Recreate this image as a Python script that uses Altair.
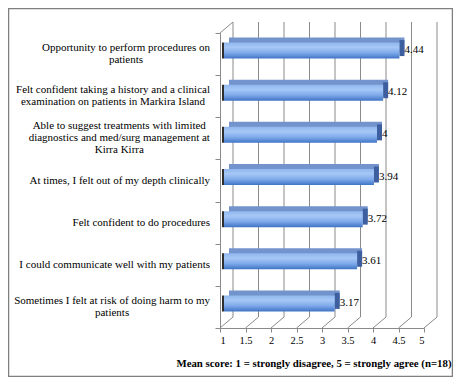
import altair as alt
import pandas as pd

# ---- data -------------------------------------------------------------
label_lines = [
    ["Opportunity to perform procedures on", "patients"],
    ["Felt confident taking a history and a clinical", "examination on patients in Markira Island"],
    ["Able to suggest  treatments with limited", "diagnostics and med/surg management at", "Kirra Kirra"],
    ["At times, I felt out of my depth clinically"],
    ["Felt confident to do procedures"],
    ["I could communicate well with my patients"],
    ["Sometimes I felt at risk of doing harm to my", "patients"],
]
values = [4.44, 4.12, 4, 3.94, 3.72, 3.61, 3.17]
value_labels = ["4.44", "4.12", "4", "3.94", "3.72", "3.61", "3.17"]
tick_values = [1, 1.5, 2, 2.5, 3, 3.5, 4, 4.5, 5]
axis_title = "Mean score: 1 = strongly disagree, 5 = strongly agree (n=18)"

# ---- approximate serif text widths (em units) for centring wrapped labels
_w = {c: 0.5 for c in "abdghknopquvxy"}
_w.update({c: 0.444 for c in "ace z"})
_w.update({"f": 0.333, "i": 0.278, "j": 0.278, "l": 0.278, "m": 0.778,
           "r": 0.333, "s": 0.389, "t": 0.278, "w": 0.722, " ": 0.25,
           ",": 0.25, ".": 0.25, "/": 0.278, "I": 0.333, "M": 0.889,
           "S": 0.556, "F": 0.556, "O": 0.722, "A": 0.722, "K": 0.722})
FONT_SIZE = 11
LINE_H = 12


def text_w(s):
    return sum(_w.get(c, 0.6) for c in s) * FONT_SIZE


cats = ["\n".join(l) for l in label_lines]
df = pd.DataFrame({
    "cat": cats,
    "value": values,
    "vlabel": value_labels,
    "tw": [max(text_w(s) for s in l) for l in label_lines],
    "nl": [len(l) for l in label_lines],
})
grid_df = pd.DataFrame({"t": tick_values})
one_df = pd.DataFrame({"a": [0]})

# ---- layout -----------------------------------------------------------
W, H = 204, 295
FONT = "Liberation Serif"
GRID = "#8a8a8a"

xscale = alt.Scale(domain=[1, 5], zero=False, nice=False)
xaxis = alt.Axis(values=tick_values, format="~g", grid=False, tickSize=4,
                 domainColor=GRID, tickColor=GRID, labelFont=FONT,
                 labelFontSize=10.5, labelColor="black", labelPadding=3,
                 title=axis_title, titleFont=FONT, titleFontSize=10.8,
                 titleFontWeight="bold", titleColor="black", titleX=231,
                 titleY=35, titleAlign="right", titleBaseline="middle")
yscale = alt.Scale(domain=cats, paddingInner=0, paddingOuter=0)
yaxis = alt.Axis(labels=False, ticks=True, tickBand="extent", tickSize=5,
                 domainColor=GRID, tickColor=GRID, title=None, grid=False)


def X(f):
    return alt.X(f, type="quantitative", scale=xscale, axis=xaxis)


def Y():
    return alt.Y("cat:N", scale=yscale, axis=yaxis, sort=cats)


border = alt.Chart(one_df).mark_rect(fill="transparent", stroke="#7f7f7f", strokeWidth=1.5).encode(
    x=alt.value(-211.5), x2=alt.value(232.5), y=alt.value(-24.5), y2=alt.value(343.5))

back_grid = alt.Chart(grid_df).mark_rule(color=GRID, strokeWidth=1, xOffset=13).encode(
    x=X("t"), y=alt.value(-11), y2=alt.value(H - 11))

floor = alt.Chart(grid_df).mark_rule(color=GRID, strokeWidth=1, x2Offset=13).encode(
    x=X("t"), x2=alt.X2("t"), y=alt.value(H), y2=alt.value(H - 11))

left_top = alt.Chart(grid_df).transform_filter("datum.t == 1").mark_rule(
    color=GRID, strokeWidth=1, x2Offset=13).encode(
    x=X("t"), x2=alt.X2("t"), y=alt.value(0), y2=alt.value(-11))

top_face = alt.Chart(df).mark_bar(height=16, xOffset=9, x2Offset=9, yOffset=-8.5,
                                  color="#7393cc").encode(
    x=X("value"), x2=alt.X2(datum=1), y=Y())

side_face = alt.Chart(df).mark_tick(orient="vertical", thickness=5, size=16,
                                    xOffset=6.5, yOffset=-6, color="#3d5f9f",
                                    opacity=1).encode(
    x=X("value"), y=Y())

front_face = alt.Chart(df).mark_bar(
    height=16, xOffset=4, x2Offset=4, yOffset=-3.5,
    color=alt.LinearGradient(
        gradient="linear", x1=0, x2=0, y1=0, y2=1,
        stops=[alt.GradientStop(color="#8fb6ee", offset=0),
               alt.GradientStop(color="#a6c8f6", offset=0.3),
               alt.GradientStop(color="#7ea9ea", offset=0.65),
               alt.GradientStop(color="#3e74c5", offset=1)])).encode(
    x=X("value"), x2=alt.X2(datum=1), y=Y())

left_cap = alt.Chart(df).mark_tick(orient="vertical", thickness=2, size=16,
                                   xOffset=3, yOffset=-3.5, color="#2e2e2e",
                                   opacity=1).encode(
    x=alt.X(datum=1, type="quantitative", scale=xscale, axis=xaxis), y=Y())

val_text = alt.Chart(df).mark_text(align="left", baseline="middle", dx=9, dy=-4,
                                   font=FONT, fontSize=11, color="black").encode(
    x=X("value"), y=Y(), text="vlabel:N")


def cat_layer(n):
    return alt.Chart(df).transform_filter(f"datum.nl == {n}").transform_calculate(
        lx=f"1 - (10 + datum.tw / 2) / {W / 4}").mark_text(
        align="center", baseline="middle", lineBreak="\n", lineHeight=LINE_H,
        dy=-(n - 1) * LINE_H / 2,
        font=FONT, fontSize=FONT_SIZE, color="black").encode(
        x=X("lx"), y=Y(), text="cat:N")


chart = alt.layer(border, back_grid, floor, left_top, top_face, side_face,
                  front_face, left_cap, val_text,
                  cat_layer(1), cat_layer(2), cat_layer(3)).properties(
    width=W, height=H,
    autosize=alt.AutoSizeParams(type="none"),
    padding={"left": 212, "top": 25, "right": 29, "bottom": 49},
).configure_view(stroke=None)

chart.save("out.html", embed_options={"renderer": "svg", "actions": False})
